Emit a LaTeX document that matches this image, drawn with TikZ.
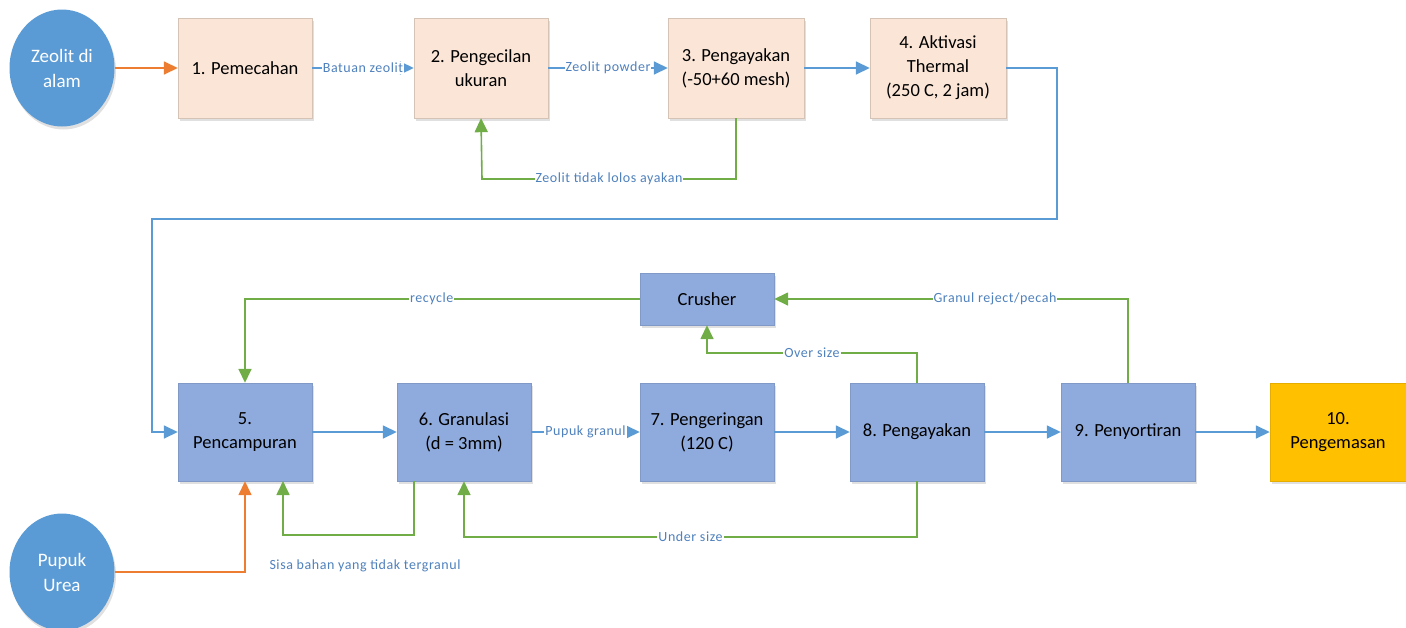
\documentclass[tikz,border=0pt]{standalone}
\usepackage{fontspec}
\setmainfont{Carlito}
\newfontfamily\lblfont[LetterSpace=4]{Carlito}
\usetikzlibrary{arrows.meta,shapes.geometric,shadows}
\definecolor{peach}{HTML}{FBE5D6}
\definecolor{boxblue}{HTML}{8FAADC}
\definecolor{circblue}{HTML}{5B9BD5}
\definecolor{lineblue}{HTML}{5B9BD5}
\definecolor{linegreen}{HTML}{70AD47}
\definecolor{lineorange}{HTML}{ED7D31}
\definecolor{gold}{HTML}{FFC000}
\definecolor{lbltext}{HTML}{4F81BD}
\tikzset{
  procbox/.style={rectangle, minimum width=134pt, minimum height=100pt, align=center,
    font=\fontsize{18.5}{24}\selectfont, inner sep=2pt,
    drop shadow={shadow xshift=1.5pt, shadow yshift=-3pt, opacity=0.12, fill=black}},
  topbox/.style={procbox, fill=peach, draw=peach!85!black, line width=0.4pt},
  lowbox/.style={procbox, fill=boxblue, draw=boxblue!90!black, line width=0.4pt, minimum height=98pt},
  srcnode/.style={ellipse, fill=circblue, minimum width=105pt, minimum height=117pt,
    text=white, align=center, font=\fontsize{19}{25}\selectfont,
    drop shadow={shadow xshift=1.5pt, shadow yshift=-3pt, opacity=0.12, fill=black}},
  tip/.style={-{Triangle[length=14pt,width=13pt]}},
  bflow/.style={tip, draw=lineblue, line width=1.6pt},
  gflow/.style={tip, draw=linegreen, line width=1.6pt},
  oflow/.style={tip, draw=lineorange, line width=1.6pt},
  lbl/.style={fill=white, inner sep=1pt, text=lbltext, font=\lblfont\fontsize{14}{15}\selectfont}
}
\begin{document}
\begin{tikzpicture}[x=1pt,y=-1pt]
\useasboundingbox (0,0) rectangle (1406,627);
% sources
\node[srcnode] (z) at (62,68) {Zeolit di\\alam};
\node[srcnode] (u) at (62,572) {Pupuk\\Urea};
% top row
\node[topbox] (b1) at (245,68) {1. Pemecahan};
\node[topbox] (b2) at (481,68) {2. Pengecilan\\ukuran};
\node[topbox, minimum width=136pt] (b3) at (736,68) {3. Pengayakan\\(-50+60 mesh)};
\node[topbox, minimum width=136pt] (b4) at (938,68) {4. Aktivasi\\Thermal\\(250 C, 2 jam)};
% bottom row
\node[lowbox] (b5) at (245,432) {5.\\Pencampuran};
\node[lowbox] (b6) at (464,432) {6. Granulasi\\(d = 3mm)};
\node[lowbox] (b7) at (707,432) {7. Pengeringan\\(120 C)};
\node[lowbox] (b8) at (917,432) {8. Pengayakan};
\node[lowbox] (b9) at (1128,432) {9. Penyortiran};
\node[procbox, fill=gold, draw=gold!90!black, line width=0.4pt, minimum width=136pt, minimum height=98pt] (b10) at (1338,432) {10.\\Pengemasan};
\node[lowbox, minimum height=52pt] (cr) at (707,299) {Crusher};
% coordinates
\coordinate (c1) at (1057,219);
\coordinate (c2) at (152,219);
\coordinate (f1) at (736,179);
\coordinate (f2) at (482,179);
\coordinate (r1) at (245,299);
\coordinate (g1) at (1128,299);
\coordinate (o1) at (917,353);
\coordinate (o2) at (707,353);
\coordinate (s0) at (414,481);
\coordinate (s1) at (414,535);
\coordinate (s2) at (283,535);
\coordinate (s3) at (283,481);
\coordinate (d1) at (917,537);
\coordinate (d2) at (464,537);
% top flows
\draw[oflow] (z) -- (b1);
\draw[bflow] (b1) -- node[lbl]{Batuan zeolit} (b2);
\draw[bflow] (b2) -- node[lbl]{Zeolit powder} (b3);
\draw[bflow] (b3) -- (b4);
\draw[gflow] (b3.south) -- (f1) -- node[lbl]{Zeolit tidak lolos ayakan} (f2) -- (b2.south);
\draw[bflow] (b4.east) -| (c1) -- (c2) |- (b5.west);
% bottom flows
\draw[oflow] (u.east) -| (b5.south);
\draw[bflow] (b5) -- (b6);
\draw[bflow] (b6) -- node[lbl]{Pupuk granul} (b7);
\draw[bflow] (b7) -- (b8);
\draw[bflow] (b8) -- (b9);
\draw[bflow] (b9) -- (b10);
\draw[gflow] (s0) -- (s1) -- (s2) -- (s3);
\node[lbl] (sisa) at (365,566) {Sisa bahan yang tidak tergranul};
\draw[gflow] (b8.south) -- (d1) -- node[lbl]{Under size} (d2) -- (b6.south);
\draw[gflow] (b8.north) -- (o1) -- node[lbl]{Over size} (o2) -- (cr.south);
\draw[gflow] (b9.north) -- (g1) -- node[lbl, pos=0.376]{Granul reject/pecah} (cr.east);
\draw[gflow] (cr.west) -- node[lbl, pos=0.527]{recycle} (r1) -- (b5.north);
\end{tikzpicture}
\end{document}
